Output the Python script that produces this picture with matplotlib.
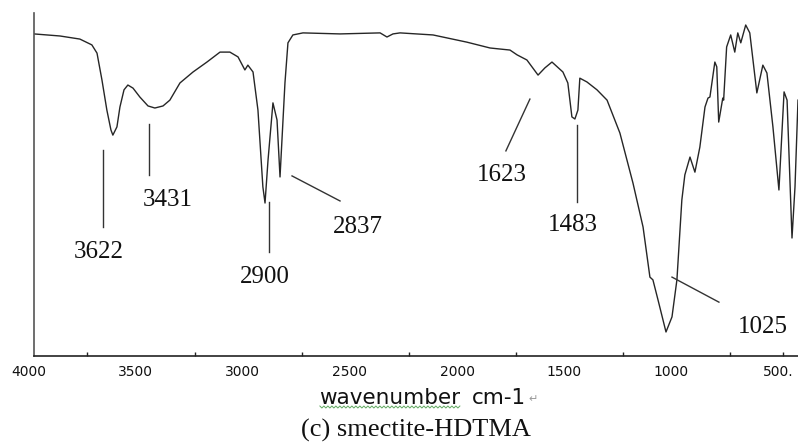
import numpy as np
import matplotlib
matplotlib.use("Agg")
import matplotlib.pyplot as plt
import matplotlib.transforms as mtransforms
from matplotlib.lines import Line2D

# FTIR spectrum of smectite-HDTMA, wavenumber (cm-1) vs transmittance (%)
wavenumber = [3974, 3853, 3760, 3704, 3680, 3657, 3634, 3615, 3606, 3587,
              3573, 3554, 3536, 3512, 3480, 3442, 3410, 3372, 3340, 3293,
              3232, 3167, 3106, 3060, 3022, 2990, 2976, 2952,
              2929, 2906, 2896, 2882, 2859, 2840, 2826, 2803, 2789, 2766,
              2719, 2546, 2359, 2327, 2299, 2266, 2112, 1954, 1846, 1800,
              1753, 1720, 1674, 1622, 1590, 1557, 1506, 1483, 1464, 1450,
              1436, 1427, 1394, 1347, 1300, 1240, 1179, 1132, 1100, 1086,
              1062, 1025, 997, 974, 951, 937, 913, 890, 867, 843,
              829, 820, 797, 788, 779, 760, 756, 742, 723, 704,
              690, 676, 653, 634, 601, 573, 554, 526, 498, 474,
              460, 437, 423, 409]
transmittance = [93.9, 93.3, 92.4, 90.7, 88.3, 80.5, 71.7, 65.9, 64.4, 66.8,
                 72.6, 77.6, 79.0, 78.1, 75.5, 72.9, 72.3, 72.9, 74.6, 79.6,
                 82.8, 85.7, 88.6, 88.6, 87.2, 83.4, 84.8, 82.8,
                 71.7, 49.3, 44.6, 57.1, 73.8, 68.8, 52.2, 79.6, 91.3, 93.6,
                 94.2, 93.9, 94.2, 93.0, 93.9, 94.2, 93.6, 91.5, 89.8, 89.5,
                 89.2, 87.8, 86.3, 81.9, 84.0, 85.7, 82.8, 79.6, 69.7, 69.1,
                 71.7, 81.0, 79.9, 77.6, 74.6, 65.0, 50.4, 37.6, 23.0, 22.2,
                 16.3, 7.0, 11.4, 22.2, 45.5, 52.8, 58.0, 53.6, 60.9, 72.6,
                 75.2, 75.5, 85.7, 84.3, 68.2, 75.2, 74.6, 90.1, 93.6, 88.6,
                 94.2, 91.3, 96.5, 94.2, 76.7, 84.8, 82.5, 66.8, 48.4, 77.0,
                 74.6, 34.4, 49.3, 74.6]

tick_values = [4000, 3500, 3000, 2500, 2000, 1500, 1000, 500]
tick_labels = ['4000', '3500', '3000', '2500', '2000', '1500', '1000', '500.']
tick_marks = [3725, 3225, 2725, 2225, 1725, 1225, 725, 480]

# assigned bands; leader line ends and label positions (wavenumber, %T)
peaks = [3622, 3431, 2900, 2837, 1623, 1483, 1025]
leader_start = [(3652, 60.1), (3438, 67.6), (2877, 44.9), (2770, 52.5),
                (1660, 74.9), (1440, 67.3), (997, 23.0)]
leader_end = [(3652, 37.6), (3438, 52.8), (2877, 30.3), (2546, 45.2),
              (1772, 59.8), (1440, 44.9), (778, 15.7)]
label_pos = [(3671, 30.3), (3349, 45.5), (2896, 23.0), (2462, 37.6),
             (1791, 52.8), (1459, 38.2), (573, 8.5)]

fig = plt.figure(figsize=(7.98, 4.45), dpi=100)
ax = fig.add_axes([34 / 798, 89 / 445, 764 / 798, 343 / 445])

ax.plot(wavenumber, transmittance, color='#262626', lw=1.0,
        solid_joinstyle='round')
ax.set_xlim(3974, 409)
ax.set_ylim(0, 100)

for side in ['top', 'right']:
    ax.spines[side].set_visible(False)
ax.spines['left'].set_color('#555555')
ax.spines['left'].set_linewidth(1.2)
ax.spines['bottom'].set_color('#222222')
ax.spines['bottom'].set_linewidth(1.2)
ax.set_yticks([])
ax.set_xticks(tick_marks)
ax.set_xticklabels([])
ax.tick_params(axis='x', direction='in', length=3, width=1.0, color='#222222')

# axis numbers sit between the tick marks
lab_tr = mtransforms.offset_copy(ax.get_xaxis_transform(), fig=fig,
                                 y=-16, units='dots')
for v, s in zip(tick_values, tick_labels):
    ax.text(v, 0, s, transform=lab_tr, ha='center', va='center',
            fontsize=10, family='DejaVu Sans', color='#111111', clip_on=False)

# band assignments
for p, (x0, y0), (x1, y1), (tx, ty) in zip(peaks, leader_start, leader_end, label_pos):
    ax.plot([x0, x1], [y0, y1], color='#333333', lw=1.0)
    ax.text(tx, ty, str(p), ha='center', va='center', fontsize=18,
            family='Liberation Serif', color='#111111')

# axis title and caption
t1 = fig.text(460 / 798, 1 - 398 / 445, 'wavenumber', ha='right', va='center',
              fontsize=15.5, family='DejaVu Sans', color='#111111')
t2 = fig.text(472 / 798, 1 - 398 / 445, 'cm-1', ha='left', va='center',
              fontsize=15.5, family='DejaVu Sans', color='#111111')
ret = plt.annotate('\u21b5', xy=(1, 0.5), xycoords=t2, xytext=(2, -1),
                   textcoords='offset points', ha='left', va='center',
                   fontsize=8, color='#999999', family='DejaVu Sans',
                   annotation_clip=False)
fig.text(416 / 798, 1 - 430 / 445, '(c) smectite-HDTMA', ha='center',
         va='center', fontsize=19, family='Liberation Serif', color='#111111')

# wavy spelling underline under "wavenumber"
fig.canvas.draw()
bb = t1.get_window_extent()
sx = np.arange(bb.x0 + 1, bb.x1, 2.0)
sy = bb.y0 + 1 + np.where(np.arange(len(sx)) % 2 == 0, 1.0, -1.0)
fig.add_artist(Line2D(sx, sy, transform=None, color='#5fa85f', lw=0.7))

fig.savefig('out.png', dpi=100)
